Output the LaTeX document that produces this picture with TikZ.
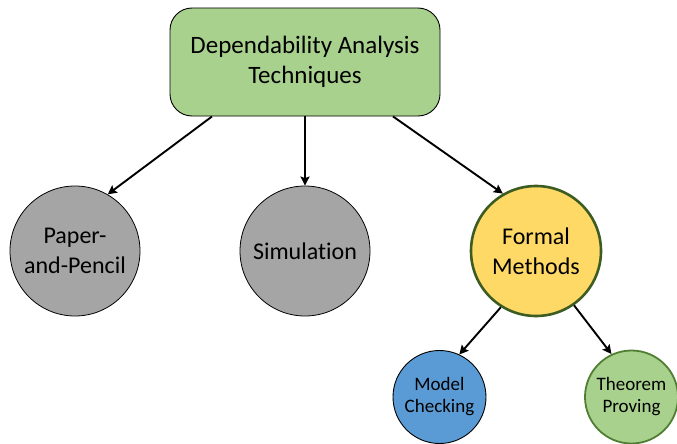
\documentclass[tikz,border=0pt]{standalone}
\usepackage{fontspec}
\setmainfont{Carlito}[Ligatures=NoCommon]
\usepackage{tikz}
\usetikzlibrary{arrows.meta,positioning}

\definecolor{boxgreen}{HTML}{A9D18E}
\definecolor{darkgreen}{HTML}{3D5C22}
\definecolor{leafgreen}{HTML}{507E32}
\definecolor{circlegray}{HTML}{A5A5A5}
\definecolor{formalyellow}{HTML}{FFD966}
\definecolor{modelblue}{HTML}{5B9BD5}

\tikzset{
  rootbox/.style={draw=black, line width=0.9pt, fill=boxgreen, rounded corners=22pt,
    minimum width=270pt, minimum height=108pt, align=center,
    font=\fontsize{25}{30}\selectfont},
  bigcircle/.style={circle, draw=black, line width=0.8pt, fill=circlegray,
    minimum size=130pt, inner sep=0pt, align=center,
    font=\fontsize{24}{30}\selectfont},
  smallcircle/.style={circle, draw=black, line width=0.9pt, minimum size=93pt,
    inner sep=0pt, align=center, font=\fontsize{19}{22}\selectfont},
  arrow/.style={-{Stealth[length=9pt,width=9pt,inset=1.5pt]}, line width=1.9pt}
}

\begin{document}
\begin{tikzpicture}[x=1pt,y=-1pt]
		\useasboundingbox (0,0) rectangle (677,444);
		\node[rootbox] (root) at (305,62) {Dependability Analysis\\Techniques};
		\node[bigcircle] (paper) at (75,251) {Paper-\\and-Pencil};
		\node[bigcircle] (sim) at (305,251) {Simulation};
		\node[bigcircle, fill=formalyellow, draw=darkgreen, line width=2.6pt] (formal) at (536,251) {Formal\\Methods};
		\node[smallcircle, fill=modelblue] (model) at (439.5,397) {Model\\Checking};
		\node[smallcircle, fill=boxgreen, draw=leafgreen, line width=1.8pt] (theorem) at (631.5,397) {Theorem\\Proving};
		% arrows out of the root box
		\draw[arrow] ([xshift=-93pt]root.south) -- (paper.60);
		\draw[arrow] (root.south) -- (sim.north);
		\draw[arrow] ([xshift=88pt]root.south) -- (formal.120);
		% arrows out of formal methods
		\draw[arrow] (formal.238) -- (model.65);
		\draw[arrow] (formal.-55) -- (theorem.115);
\end{tikzpicture}
\end{document}
